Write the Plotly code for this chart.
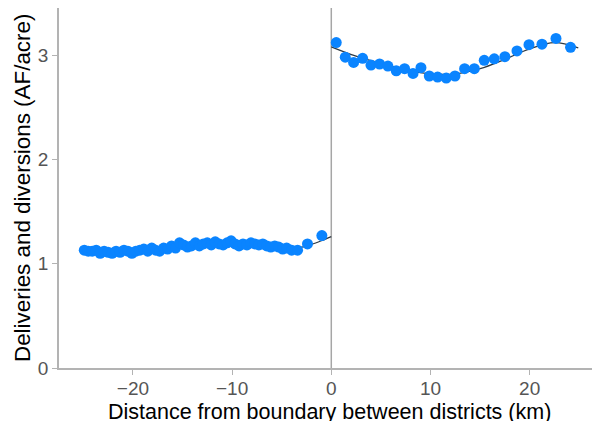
import plotly.graph_objects as go

# Binned scatter, left of boundary (km, AF/acre)
left_x = [-24.9, -24.5, -24.1, -23.7, -23.3, -22.9, -22.5, -22.1, -21.7, -21.3,
          -20.9, -20.5, -20.1, -19.7, -19.3, -18.9, -18.5, -18.1, -17.7, -17.3,
          -16.9, -16.5, -16.1, -15.7, -15.3, -14.9, -14.5, -14.1, -13.7, -13.3,
          -12.9, -12.5, -12.1, -11.7, -11.3, -10.9, -10.5, -10.1, -9.7, -9.3,
          -8.9, -8.5, -8.1, -7.7, -7.3, -6.9, -6.5, -6.1, -5.7, -5.3,
          -4.9, -4.5, -4.0, -3.4, -2.4, -0.95]
left_y = [1.13, 1.12, 1.12, 1.13, 1.10, 1.12, 1.11, 1.10, 1.12, 1.11,
          1.13, 1.12, 1.10, 1.12, 1.13, 1.14, 1.12, 1.15, 1.13, 1.12,
          1.15, 1.14, 1.17, 1.15, 1.20, 1.18, 1.16, 1.17, 1.20, 1.17,
          1.19, 1.20, 1.18, 1.21, 1.19, 1.18, 1.20, 1.22, 1.19, 1.17,
          1.19, 1.18, 1.20, 1.19, 1.18, 1.19, 1.17, 1.16, 1.17, 1.16,
          1.14, 1.15, 1.13, 1.13, 1.19, 1.27]

# Binned scatter, right of boundary
right_x = [0.50, 1.41, 2.25, 3.16, 4.00, 4.87, 5.71, 6.55, 7.39, 8.24,
           9.04, 9.88, 10.72, 11.59, 12.47, 13.44, 14.42, 15.42, 16.43, 17.50,
           18.72, 19.93, 21.24, 22.65, 24.12]
right_y = [3.12, 2.98, 2.93, 2.97, 2.905, 2.915, 2.895, 2.85, 2.87, 2.825,
           2.88, 2.80, 2.79, 2.78, 2.80, 2.87, 2.87, 2.95, 2.965, 2.985,
           3.04, 3.10, 3.105, 3.16, 3.075]

# Fitted curves
fit_left_x = [-25, -20, -15, -10, -6, -4, -3, -2, -1, 0]
fit_left_y = [1.12, 1.14, 1.18, 1.19, 1.17, 1.155, 1.16, 1.185, 1.22, 1.26]
fit_right_x = [0, 2.5, 5, 7.5, 10, 12.5, 15, 17.5, 20, 22.5, 24.9]
fit_right_y = [3.08, 2.99, 2.92, 2.86, 2.82, 2.82, 2.87, 2.96, 3.06, 3.12, 3.07]

x_ticks = [-20, -10, 0, 10, 20]
y_ticks = [0, 1, 2, 3]

x_title = "Distance from boundary between districts (km)"
y_title = "Deliveries and diversions (AF/acre)"

blue = "rgb(10,132,255)"
axis_gray = "#b3b3b3"

fig = go.Figure()
for xs, ys in [(fit_left_x, fit_left_y), (fit_right_x, fit_right_y)]:
    fig.add_trace(go.Scatter(x=xs, y=ys, mode="lines",
                             line=dict(color="#2f3b45", width=1.3, shape="spline"),
                             showlegend=False, hoverinfo="skip"))
for xs, ys in [(left_x, left_y), (right_x, right_y)]:
    fig.add_trace(go.Scatter(x=xs, y=ys, mode="markers",
                             marker=dict(color=blue, size=11, line=dict(width=0)),
                             showlegend=False))

fig.add_vline(x=0, line=dict(color="#a6a6a6", width=1.5), layer="below")

fig.add_annotation(text=x_title, xref="paper", yref="paper", x=0.5, y=0,
                   yshift=-43.5, xanchor="center", yanchor="middle", showarrow=False,
                   font=dict(size=21.5, color="black"))
fig.add_annotation(text=y_title, xref="paper", yref="paper", x=0, y=0.5,
                   xshift=-37, xanchor="center", yanchor="middle", showarrow=False,
                   textangle=-90, font=dict(size=22.4, color="black"))

fig.update_layout(
    width=592, height=413,
    margin=dict(l=51, r=0, t=0, b=53),
    paper_bgcolor="white", plot_bgcolor="white",
    font=dict(family="Liberation Sans, Arial, sans-serif"),
    xaxis=dict(range=[-27.45, 27.09], tickvals=x_ticks, showgrid=False, zeroline=False,
               showline=True, linecolor=axis_gray, linewidth=1.5, mirror=True,
               ticks="outside", ticklen=5, tickcolor=axis_gray, tickwidth=1,
               ticklabelstandoff=-3,
               tickfont=dict(size=19, color="#555555"), automargin=False),
    yaxis=dict(range=[0, 3.452], tickvals=y_ticks, showgrid=False, zeroline=False,
               showline=True, linecolor=axis_gray, linewidth=1.5,
               ticks="outside", ticklen=5, tickcolor=axis_gray, tickwidth=1,
               tickfont=dict(size=19, color="#555555"), automargin=False),
)

fig.write_html("out.html")
